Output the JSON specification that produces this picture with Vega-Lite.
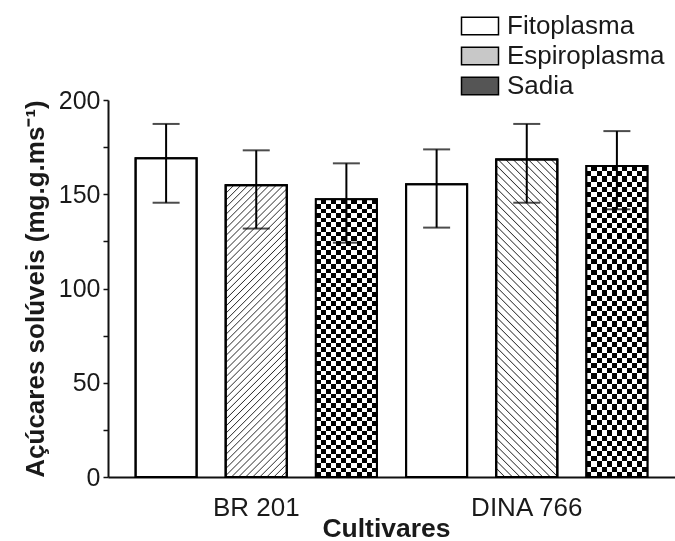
{
"$schema": "https://vega.github.io/schema/vega-lite/v6.json",
"width": 567,
"height": 377,
"autosize": {"type": "none"},
"padding": {"left": 108, "top": 100, "right": 0, "bottom": 64},
"background": "white",
"data": {"values": [
{"cultivar": "BR 201", "series": "Fitoplasma", "mean": 169.1, "lo": 145.5, "hi": 187.3},
{"cultivar": "BR 201", "series": "Espiroplasma", "mean": 154.8, "lo": 131.8, "hi": 173.3},
{"cultivar": "BR 201", "series": "Sadia", "mean": 147.3, "lo": 124.3, "hi": 166.4},
{"cultivar": "DINA 766", "series": "Fitoplasma", "mean": 155.3, "lo": 132.3, "hi": 173.8},
{"cultivar": "DINA 766", "series": "Espiroplasma", "mean": 168.5, "lo": 145.5, "hi": 187.3},
{"cultivar": "DINA 766", "series": "Sadia", "mean": 165.0, "lo": 142.0, "hi": 183.5}
]},
"encoding": {
"x": {"field": "cultivar", "type": "nominal", "sort": ["BR 201", "DINA 766"],
 "scale": {"paddingInner": 0.108, "paddingOuter": 0.102},
 "axis": {"title": "Cultivares", "labelAngle": 0, "ticks": false, "tickSize": 0, "domainWidth": 2, "domainColor": "#111", "labelFontSize": 26, "labelPadding": 17, "titleFontSize": 26.5, "titleFontWeight": "bold", "titlePadding": -5, "titleX": 278}},
"xOffset": {"field": "series", "type": "nominal", "sort": ["Fitoplasma", "Espiroplasma", "Sadia"], "scale": {"paddingInner": 0.323, "paddingOuter": 0}},
"y": {"field": "mean", "type": "quantitative", "scale": {"domain": [0, 200], "nice": false},
 "axis": {"title": "Açúcares solúveis (mg.g.ms⁻¹)", "values": [0, 25, 50, 75, 100, 125, 150, 175, 200], "labelExpr": "datum.value % 50 === 0 ? datum.label : ''", "grid": false, "tickSize": 5, "tickWidth": 1.5, "tickColor": "#111", "domainWidth": 2, "domainColor": "#111", "labelFontSize": 25, "labelPadding": 3, "titleFontSize": 26, "titleFontWeight": "bold", "titlePadding": 10}}
},
"layer": [
{"mark": {"type": "bar", "stroke": "black", "strokeWidth": 2},
 "encoding": {"fill": {"field": "series", "type": "nominal",
  "scale": {"domain": ["Fitoplasma", "Espiroplasma", "Sadia"], "range": ["white", "#c8c8c8", "#555555"]},
  "legend": {"title": null, "orient": "none", "legendX": 359, "legendY": -87, "symbolType": "M-2,-0.94H2V0.94H-2Z", "symbolSize": 342, "symbolStrokeColor": "black", "symbolStrokeWidth": 1.5, "labelFontSize": 26, "labelFont": "Liberation Sans", "labelColor": "#1a1a1a", "labelOffset": 14, "rowPadding": 4, "padding": 0}}}},
{"transform": [{"filter": "datum.series === 'Espiroplasma' && datum.cultivar === 'BR 201'"}],
 "mark": {"type": "bar", "stroke": "black", "strokeWidth": 2, "fill": {"gradient": "linear", "x1": 0, "y1": 0, "x2": 0.242, "y2": 1.159, "stops": [
{"offset":0,"color":"#fff"},{"offset":0.003,"color":"#333"},{"offset":0.006,"color":"#fff"},
{"offset":0.02,"color":"#fff"},{"offset":0.023,"color":"#333"},{"offset":0.026,"color":"#fff"},
{"offset":0.04,"color":"#fff"},{"offset":0.043,"color":"#333"},{"offset":0.046,"color":"#fff"},
{"offset":0.06,"color":"#fff"},{"offset":0.063,"color":"#333"},{"offset":0.066,"color":"#fff"},
{"offset":0.08,"color":"#fff"},{"offset":0.083,"color":"#333"},{"offset":0.086,"color":"#fff"},
{"offset":0.1,"color":"#fff"},{"offset":0.103,"color":"#333"},{"offset":0.106,"color":"#fff"},
{"offset":0.12,"color":"#fff"},{"offset":0.123,"color":"#333"},{"offset":0.126,"color":"#fff"},
{"offset":0.14,"color":"#fff"},{"offset":0.143,"color":"#333"},{"offset":0.146,"color":"#fff"},
{"offset":0.16,"color":"#fff"},{"offset":0.163,"color":"#333"},{"offset":0.166,"color":"#fff"},
{"offset":0.18,"color":"#fff"},{"offset":0.183,"color":"#333"},{"offset":0.186,"color":"#fff"},
{"offset":0.2,"color":"#fff"},{"offset":0.203,"color":"#333"},{"offset":0.206,"color":"#fff"},
{"offset":0.22,"color":"#fff"},{"offset":0.223,"color":"#333"},{"offset":0.226,"color":"#fff"},
{"offset":0.24,"color":"#fff"},{"offset":0.243,"color":"#333"},{"offset":0.246,"color":"#fff"},
{"offset":0.26,"color":"#fff"},{"offset":0.263,"color":"#333"},{"offset":0.266,"color":"#fff"},
{"offset":0.28,"color":"#fff"},{"offset":0.283,"color":"#333"},{"offset":0.286,"color":"#fff"},
{"offset":0.3,"color":"#fff"},{"offset":0.303,"color":"#333"},{"offset":0.306,"color":"#fff"},
{"offset":0.32,"color":"#fff"},{"offset":0.323,"color":"#333"},{"offset":0.326,"color":"#fff"},
{"offset":0.34,"color":"#fff"},{"offset":0.343,"color":"#333"},{"offset":0.346,"color":"#fff"},
{"offset":0.36,"color":"#fff"},{"offset":0.363,"color":"#333"},{"offset":0.366,"color":"#fff"},
{"offset":0.38,"color":"#fff"},{"offset":0.383,"color":"#333"},{"offset":0.386,"color":"#fff"},
{"offset":0.4,"color":"#fff"},{"offset":0.403,"color":"#333"},{"offset":0.406,"color":"#fff"},
{"offset":0.42,"color":"#fff"},{"offset":0.423,"color":"#333"},{"offset":0.426,"color":"#fff"},
{"offset":0.44,"color":"#fff"},{"offset":0.443,"color":"#333"},{"offset":0.446,"color":"#fff"},
{"offset":0.46,"color":"#fff"},{"offset":0.463,"color":"#333"},{"offset":0.466,"color":"#fff"},
{"offset":0.48,"color":"#fff"},{"offset":0.483,"color":"#333"},{"offset":0.486,"color":"#fff"},
{"offset":0.5,"color":"#fff"},{"offset":0.503,"color":"#333"},{"offset":0.506,"color":"#fff"},
{"offset":0.52,"color":"#fff"},{"offset":0.523,"color":"#333"},{"offset":0.526,"color":"#fff"},
{"offset":0.54,"color":"#fff"},{"offset":0.543,"color":"#333"},{"offset":0.546,"color":"#fff"},
{"offset":0.56,"color":"#fff"},{"offset":0.563,"color":"#333"},{"offset":0.566,"color":"#fff"},
{"offset":0.58,"color":"#fff"},{"offset":0.583,"color":"#333"},{"offset":0.586,"color":"#fff"},
{"offset":0.6,"color":"#fff"},{"offset":0.603,"color":"#333"},{"offset":0.606,"color":"#fff"},
{"offset":0.62,"color":"#fff"},{"offset":0.623,"color":"#333"},{"offset":0.626,"color":"#fff"},
{"offset":0.64,"color":"#fff"},{"offset":0.643,"color":"#333"},{"offset":0.646,"color":"#fff"},
{"offset":0.66,"color":"#fff"},{"offset":0.663,"color":"#333"},{"offset":0.666,"color":"#fff"},
{"offset":0.68,"color":"#fff"},{"offset":0.683,"color":"#333"},{"offset":0.686,"color":"#fff"},
{"offset":0.7,"color":"#fff"},{"offset":0.703,"color":"#333"},{"offset":0.706,"color":"#fff"},
{"offset":0.72,"color":"#fff"},{"offset":0.723,"color":"#333"},{"offset":0.726,"color":"#fff"},
{"offset":0.74,"color":"#fff"},{"offset":0.743,"color":"#333"},{"offset":0.746,"color":"#fff"},
{"offset":0.76,"color":"#fff"},{"offset":0.763,"color":"#333"},{"offset":0.766,"color":"#fff"},
{"offset":0.78,"color":"#fff"},{"offset":0.783,"color":"#333"},{"offset":0.786,"color":"#fff"},
{"offset":0.8,"color":"#fff"},{"offset":0.803,"color":"#333"},{"offset":0.806,"color":"#fff"},
{"offset":0.82,"color":"#fff"},{"offset":0.823,"color":"#333"},{"offset":0.826,"color":"#fff"},
{"offset":0.84,"color":"#fff"},{"offset":0.843,"color":"#333"},{"offset":0.846,"color":"#fff"},
{"offset":0.86,"color":"#fff"},{"offset":0.863,"color":"#333"},{"offset":0.866,"color":"#fff"},
{"offset":0.88,"color":"#fff"},{"offset":0.883,"color":"#333"},{"offset":0.886,"color":"#fff"},
{"offset":0.9,"color":"#fff"},{"offset":0.903,"color":"#333"},{"offset":0.906,"color":"#fff"},
{"offset":0.92,"color":"#fff"},{"offset":0.923,"color":"#333"},{"offset":0.926,"color":"#fff"},
{"offset":0.94,"color":"#fff"},{"offset":0.943,"color":"#333"},{"offset":0.946,"color":"#fff"},
{"offset":0.96,"color":"#fff"},{"offset":0.963,"color":"#333"},{"offset":0.966,"color":"#fff"},
{"offset":0.98,"color":"#fff"},{"offset":0.983,"color":"#333"},{"offset":0.986,"color":"#fff"}
 ]}}},
{"transform": [{"filter": "datum.series === 'Espiroplasma' && datum.cultivar === 'DINA 766'"}],
 "mark": {"type": "bar", "stroke": "black", "strokeWidth": 2, "fill": {"gradient": "linear", "x1": 0, "y1": 1, "x2": 0.221, "y2": -0.15, "stops": [
{"offset":0,"color":"#fff"},{"offset":0.003,"color":"#333"},{"offset":0.006,"color":"#fff"},
{"offset":0.02,"color":"#fff"},{"offset":0.023,"color":"#333"},{"offset":0.026,"color":"#fff"},
{"offset":0.04,"color":"#fff"},{"offset":0.043,"color":"#333"},{"offset":0.046,"color":"#fff"},
{"offset":0.06,"color":"#fff"},{"offset":0.063,"color":"#333"},{"offset":0.066,"color":"#fff"},
{"offset":0.08,"color":"#fff"},{"offset":0.083,"color":"#333"},{"offset":0.086,"color":"#fff"},
{"offset":0.1,"color":"#fff"},{"offset":0.103,"color":"#333"},{"offset":0.106,"color":"#fff"},
{"offset":0.12,"color":"#fff"},{"offset":0.123,"color":"#333"},{"offset":0.126,"color":"#fff"},
{"offset":0.14,"color":"#fff"},{"offset":0.143,"color":"#333"},{"offset":0.146,"color":"#fff"},
{"offset":0.16,"color":"#fff"},{"offset":0.163,"color":"#333"},{"offset":0.166,"color":"#fff"},
{"offset":0.18,"color":"#fff"},{"offset":0.183,"color":"#333"},{"offset":0.186,"color":"#fff"},
{"offset":0.2,"color":"#fff"},{"offset":0.203,"color":"#333"},{"offset":0.206,"color":"#fff"},
{"offset":0.22,"color":"#fff"},{"offset":0.223,"color":"#333"},{"offset":0.226,"color":"#fff"},
{"offset":0.24,"color":"#fff"},{"offset":0.243,"color":"#333"},{"offset":0.246,"color":"#fff"},
{"offset":0.26,"color":"#fff"},{"offset":0.263,"color":"#333"},{"offset":0.266,"color":"#fff"},
{"offset":0.28,"color":"#fff"},{"offset":0.283,"color":"#333"},{"offset":0.286,"color":"#fff"},
{"offset":0.3,"color":"#fff"},{"offset":0.303,"color":"#333"},{"offset":0.306,"color":"#fff"},
{"offset":0.32,"color":"#fff"},{"offset":0.323,"color":"#333"},{"offset":0.326,"color":"#fff"},
{"offset":0.34,"color":"#fff"},{"offset":0.343,"color":"#333"},{"offset":0.346,"color":"#fff"},
{"offset":0.36,"color":"#fff"},{"offset":0.363,"color":"#333"},{"offset":0.366,"color":"#fff"},
{"offset":0.38,"color":"#fff"},{"offset":0.383,"color":"#333"},{"offset":0.386,"color":"#fff"},
{"offset":0.4,"color":"#fff"},{"offset":0.403,"color":"#333"},{"offset":0.406,"color":"#fff"},
{"offset":0.42,"color":"#fff"},{"offset":0.423,"color":"#333"},{"offset":0.426,"color":"#fff"},
{"offset":0.44,"color":"#fff"},{"offset":0.443,"color":"#333"},{"offset":0.446,"color":"#fff"},
{"offset":0.46,"color":"#fff"},{"offset":0.463,"color":"#333"},{"offset":0.466,"color":"#fff"},
{"offset":0.48,"color":"#fff"},{"offset":0.483,"color":"#333"},{"offset":0.486,"color":"#fff"},
{"offset":0.5,"color":"#fff"},{"offset":0.503,"color":"#333"},{"offset":0.506,"color":"#fff"},
{"offset":0.52,"color":"#fff"},{"offset":0.523,"color":"#333"},{"offset":0.526,"color":"#fff"},
{"offset":0.54,"color":"#fff"},{"offset":0.543,"color":"#333"},{"offset":0.546,"color":"#fff"},
{"offset":0.56,"color":"#fff"},{"offset":0.563,"color":"#333"},{"offset":0.566,"color":"#fff"},
{"offset":0.58,"color":"#fff"},{"offset":0.583,"color":"#333"},{"offset":0.586,"color":"#fff"},
{"offset":0.6,"color":"#fff"},{"offset":0.603,"color":"#333"},{"offset":0.606,"color":"#fff"},
{"offset":0.62,"color":"#fff"},{"offset":0.623,"color":"#333"},{"offset":0.626,"color":"#fff"},
{"offset":0.64,"color":"#fff"},{"offset":0.643,"color":"#333"},{"offset":0.646,"color":"#fff"},
{"offset":0.66,"color":"#fff"},{"offset":0.663,"color":"#333"},{"offset":0.666,"color":"#fff"},
{"offset":0.68,"color":"#fff"},{"offset":0.683,"color":"#333"},{"offset":0.686,"color":"#fff"},
{"offset":0.7,"color":"#fff"},{"offset":0.703,"color":"#333"},{"offset":0.706,"color":"#fff"},
{"offset":0.72,"color":"#fff"},{"offset":0.723,"color":"#333"},{"offset":0.726,"color":"#fff"},
{"offset":0.74,"color":"#fff"},{"offset":0.743,"color":"#333"},{"offset":0.746,"color":"#fff"},
{"offset":0.76,"color":"#fff"},{"offset":0.763,"color":"#333"},{"offset":0.766,"color":"#fff"},
{"offset":0.78,"color":"#fff"},{"offset":0.783,"color":"#333"},{"offset":0.786,"color":"#fff"},
{"offset":0.8,"color":"#fff"},{"offset":0.803,"color":"#333"},{"offset":0.806,"color":"#fff"},
{"offset":0.82,"color":"#fff"},{"offset":0.823,"color":"#333"},{"offset":0.826,"color":"#fff"},
{"offset":0.84,"color":"#fff"},{"offset":0.843,"color":"#333"},{"offset":0.846,"color":"#fff"},
{"offset":0.86,"color":"#fff"},{"offset":0.863,"color":"#333"},{"offset":0.866,"color":"#fff"},
{"offset":0.88,"color":"#fff"},{"offset":0.883,"color":"#333"},{"offset":0.886,"color":"#fff"},
{"offset":0.9,"color":"#fff"},{"offset":0.903,"color":"#333"},{"offset":0.906,"color":"#fff"},
{"offset":0.92,"color":"#fff"},{"offset":0.923,"color":"#333"},{"offset":0.926,"color":"#fff"},
{"offset":0.94,"color":"#fff"},{"offset":0.943,"color":"#333"},{"offset":0.946,"color":"#fff"},
{"offset":0.96,"color":"#fff"},{"offset":0.963,"color":"#333"},{"offset":0.966,"color":"#fff"},
{"offset":0.98,"color":"#fff"},{"offset":0.983,"color":"#333"},{"offset":0.986,"color":"#fff"}
 ]}}},
{"transform": [{"filter": "datum.series === 'Sadia'"}],
 "mark": {"type": "bar", "strokeWidth": 0, "fill": {"gradient": "linear", "x1": 0, "y1": 0, "x2": 1, "y2": 0, "stops": [
{"offset":0,"color":"#000"},{"offset":0.083333,"color":"#000"},{"offset":0.083333,"color":"#fff"},{"offset":0.166667,"color":"#fff"},
{"offset":0.166667,"color":"#000"},{"offset":0.25,"color":"#000"},{"offset":0.25,"color":"#fff"},{"offset":0.333333,"color":"#fff"},
{"offset":0.333333,"color":"#000"},{"offset":0.416667,"color":"#000"},{"offset":0.416667,"color":"#fff"},{"offset":0.5,"color":"#fff"},
{"offset":0.5,"color":"#000"},{"offset":0.583333,"color":"#000"},{"offset":0.583333,"color":"#fff"},{"offset":0.666667,"color":"#fff"},
{"offset":0.666667,"color":"#000"},{"offset":0.75,"color":"#000"},{"offset":0.75,"color":"#fff"},{"offset":0.833333,"color":"#fff"},
{"offset":0.833333,"color":"#000"},{"offset":0.916667,"color":"#000"},{"offset":0.916667,"color":"#fff"},{"offset":1,"color":"#fff"}
 ]}}},
{"transform": [{"filter": "datum.series === 'Sadia'"}],
 "mark": {"type": "bar", "strokeWidth": 0, "blend": "difference", "fill": {"gradient": "linear", "x1": 0, "y1": 0, "x2": 0, "y2": 1, "stops": [
{"offset":0,"color":"#fff"},{"offset":0.016667,"color":"#fff"},{"offset":0.016667,"color":"#000"},{"offset":0.033333,"color":"#000"},
{"offset":0.033333,"color":"#fff"},{"offset":0.05,"color":"#fff"},{"offset":0.05,"color":"#000"},{"offset":0.066667,"color":"#000"},
{"offset":0.066667,"color":"#fff"},{"offset":0.083333,"color":"#fff"},{"offset":0.083333,"color":"#000"},{"offset":0.1,"color":"#000"},
{"offset":0.1,"color":"#fff"},{"offset":0.116667,"color":"#fff"},{"offset":0.116667,"color":"#000"},{"offset":0.133333,"color":"#000"},
{"offset":0.133333,"color":"#fff"},{"offset":0.15,"color":"#fff"},{"offset":0.15,"color":"#000"},{"offset":0.166667,"color":"#000"},
{"offset":0.166667,"color":"#fff"},{"offset":0.183333,"color":"#fff"},{"offset":0.183333,"color":"#000"},{"offset":0.2,"color":"#000"},
{"offset":0.2,"color":"#fff"},{"offset":0.216667,"color":"#fff"},{"offset":0.216667,"color":"#000"},{"offset":0.233333,"color":"#000"},
{"offset":0.233333,"color":"#fff"},{"offset":0.25,"color":"#fff"},{"offset":0.25,"color":"#000"},{"offset":0.266667,"color":"#000"},
{"offset":0.266667,"color":"#fff"},{"offset":0.283333,"color":"#fff"},{"offset":0.283333,"color":"#000"},{"offset":0.3,"color":"#000"},
{"offset":0.3,"color":"#fff"},{"offset":0.316667,"color":"#fff"},{"offset":0.316667,"color":"#000"},{"offset":0.333333,"color":"#000"},
{"offset":0.333333,"color":"#fff"},{"offset":0.35,"color":"#fff"},{"offset":0.35,"color":"#000"},{"offset":0.366667,"color":"#000"},
{"offset":0.366667,"color":"#fff"},{"offset":0.383333,"color":"#fff"},{"offset":0.383333,"color":"#000"},{"offset":0.4,"color":"#000"},
{"offset":0.4,"color":"#fff"},{"offset":0.416667,"color":"#fff"},{"offset":0.416667,"color":"#000"},{"offset":0.433333,"color":"#000"},
{"offset":0.433333,"color":"#fff"},{"offset":0.45,"color":"#fff"},{"offset":0.45,"color":"#000"},{"offset":0.466667,"color":"#000"},
{"offset":0.466667,"color":"#fff"},{"offset":0.483333,"color":"#fff"},{"offset":0.483333,"color":"#000"},{"offset":0.5,"color":"#000"},
{"offset":0.5,"color":"#fff"},{"offset":0.516667,"color":"#fff"},{"offset":0.516667,"color":"#000"},{"offset":0.533333,"color":"#000"},
{"offset":0.533333,"color":"#fff"},{"offset":0.55,"color":"#fff"},{"offset":0.55,"color":"#000"},{"offset":0.566667,"color":"#000"},
{"offset":0.566667,"color":"#fff"},{"offset":0.583333,"color":"#fff"},{"offset":0.583333,"color":"#000"},{"offset":0.6,"color":"#000"},
{"offset":0.6,"color":"#fff"},{"offset":0.616667,"color":"#fff"},{"offset":0.616667,"color":"#000"},{"offset":0.633333,"color":"#000"},
{"offset":0.633333,"color":"#fff"},{"offset":0.65,"color":"#fff"},{"offset":0.65,"color":"#000"},{"offset":0.666667,"color":"#000"},
{"offset":0.666667,"color":"#fff"},{"offset":0.683333,"color":"#fff"},{"offset":0.683333,"color":"#000"},{"offset":0.7,"color":"#000"},
{"offset":0.7,"color":"#fff"},{"offset":0.716667,"color":"#fff"},{"offset":0.716667,"color":"#000"},{"offset":0.733333,"color":"#000"},
{"offset":0.733333,"color":"#fff"},{"offset":0.75,"color":"#fff"},{"offset":0.75,"color":"#000"},{"offset":0.766667,"color":"#000"},
{"offset":0.766667,"color":"#fff"},{"offset":0.783333,"color":"#fff"},{"offset":0.783333,"color":"#000"},{"offset":0.8,"color":"#000"},
{"offset":0.8,"color":"#fff"},{"offset":0.816667,"color":"#fff"},{"offset":0.816667,"color":"#000"},{"offset":0.833333,"color":"#000"},
{"offset":0.833333,"color":"#fff"},{"offset":0.85,"color":"#fff"},{"offset":0.85,"color":"#000"},{"offset":0.866667,"color":"#000"},
{"offset":0.866667,"color":"#fff"},{"offset":0.883333,"color":"#fff"},{"offset":0.883333,"color":"#000"},{"offset":0.9,"color":"#000"},
{"offset":0.9,"color":"#fff"},{"offset":0.916667,"color":"#fff"},{"offset":0.916667,"color":"#000"},{"offset":0.933333,"color":"#000"},
{"offset":0.933333,"color":"#fff"},{"offset":0.95,"color":"#fff"},{"offset":0.95,"color":"#000"},{"offset":0.966667,"color":"#000"},
{"offset":0.966667,"color":"#fff"},{"offset":0.983333,"color":"#fff"},{"offset":0.983333,"color":"#000"},{"offset":1,"color":"#000"}
 ]}}},
{"mark": {"type": "bar", "fill": "white", "fillOpacity": 0, "stroke": "black", "strokeWidth": 2}},
{"mark": {"type": "rule", "color": "black", "strokeWidth": 2},
 "encoding": {"y": {"field": "lo", "type": "quantitative", "axis": {"title": "Açúcares solúveis (mg.g.ms⁻¹)", "values": [0, 25, 50, 75, 100, 125, 150, 175, 200], "labelExpr": "datum.value % 50 === 0 ? datum.label : ''", "grid": false, "tickSize": 5, "tickWidth": 1.5, "tickColor": "#111", "domainWidth": 2, "domainColor": "#111", "labelFontSize": 25, "labelPadding": 3, "titleFontSize": 26, "titleFontWeight": "bold", "titlePadding": 10}}, "y2": {"field": "hi"}}},
{"mark": {"type": "tick", "color": "black", "size": 27, "thickness": 2},
 "encoding": {"y": {"field": "hi", "type": "quantitative", "axis": {"title": "Açúcares solúveis (mg.g.ms⁻¹)", "values": [0, 25, 50, 75, 100, 125, 150, 175, 200], "labelExpr": "datum.value % 50 === 0 ? datum.label : ''", "grid": false, "tickSize": 5, "tickWidth": 1.5, "tickColor": "#111", "domainWidth": 2, "domainColor": "#111", "labelFontSize": 25, "labelPadding": 3, "titleFontSize": 26, "titleFontWeight": "bold", "titlePadding": 10}}}},
{"mark": {"type": "tick", "color": "black", "size": 27, "thickness": 2},
 "encoding": {"y": {"field": "lo", "type": "quantitative", "axis": {"title": "Açúcares solúveis (mg.g.ms⁻¹)", "values": [0, 25, 50, 75, 100, 125, 150, 175, 200], "labelExpr": "datum.value % 50 === 0 ? datum.label : ''", "grid": false, "tickSize": 5, "tickWidth": 1.5, "tickColor": "#111", "domainWidth": 2, "domainColor": "#111", "labelFontSize": 25, "labelPadding": 3, "titleFontSize": 26, "titleFontWeight": "bold", "titlePadding": 10}}}}
],
"config": {
"view": {"stroke": null},
"font": "Liberation Sans",
"axis": {"labelFont": "Liberation Sans", "titleFont": "Liberation Sans", "labelColor": "#1a1a1a", "titleColor": "#1a1a1a"},
"legend": {"labelFont": "Liberation Sans"}
}
}
